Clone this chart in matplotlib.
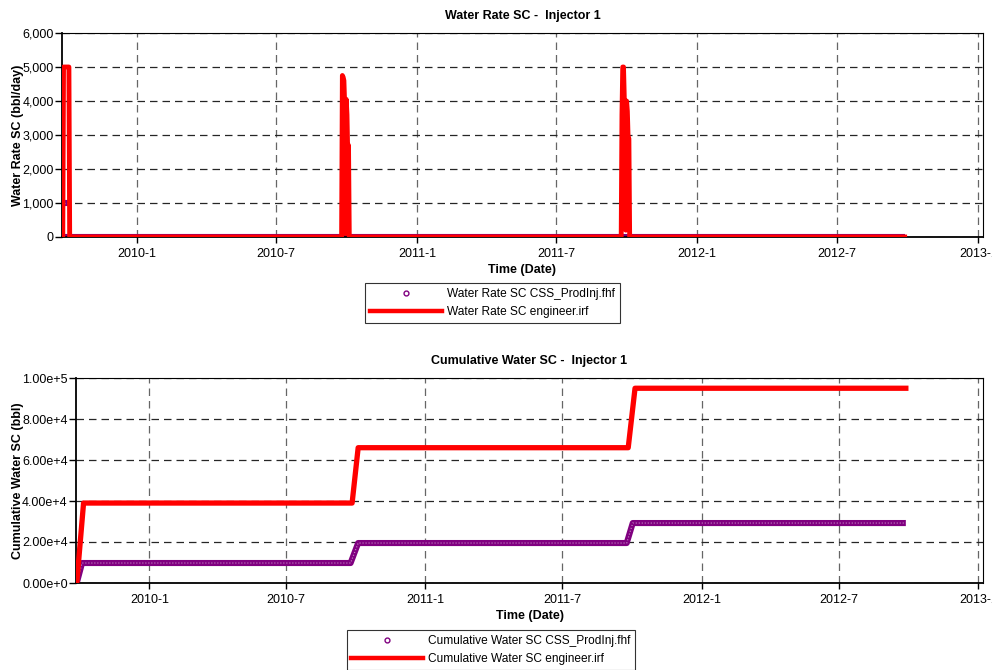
import matplotlib
matplotlib.use('Agg')
import matplotlib.pyplot as plt
import pandas as pd
from matplotlib.lines import Line2D

plt.rcParams['font.family'] = ['Liberation Sans', 'DejaVu Sans']

# ---------------- data ----------------
# Water rate, engineer.irf (red line)
rate_eng_dates = ['2009-09-27', '2009-09-28', '2009-10-05', '2009-10-06',
                  '2010-09-25', '2010-09-26', '2010-09-27', '2010-09-28', '2010-09-29',
                  '2010-09-30', '2010-10-01', '2010-10-02', '2010-10-03', '2010-10-04',
                  '2010-10-05',
                  '2011-09-24', '2011-09-25', '2011-09-26', '2011-09-27', '2011-09-28',
                  '2011-09-29', '2011-09-30', '2011-10-01', '2011-10-02', '2011-10-03',
                  '2011-10-04', '2011-10-05', '2012-09-27']
rate_eng_values = [0, 5000, 5000, 0,
                   0, 4750, 4700, 4600, 3900, 100, 4050, 3600, 2400, 2700, 0,
                   0, 3600, 5000, 5000, 4100, 1700, 200, 4000, 3700, 2900, 2900, 0,
                   0]

# Water rate, CSS_ProdInj.fhf (purple markers)
rate_fhf_zero_span = ['2009-09-27', '2012-09-27']
rate_fhf_on_start = ['2009-09-28', '2010-09-25', '2011-09-25']
rate_fhf_on_end = ['2009-10-04', '2010-10-03', '2011-10-03']
rate_fhf_on_value = 1000

# Cumulative water, engineer.irf (red line)
cum_eng_dates = ['2009-09-27', '2009-10-06', '2010-09-26', '2010-10-04',
                 '2011-09-26', '2011-10-05', '2012-09-27']
cum_eng_values = [0, 39000, 39000, 66000, 66000, 95000, 95000]

# Cumulative water, CSS_ProdInj.fhf (purple markers)
cum_fhf_dates = ['2009-09-27', '2009-10-04', '2010-09-24', '2010-10-04',
                 '2011-09-24', '2011-10-02', '2012-09-27']
cum_fhf_values = [0, 9750, 9750, 19500, 19500, 29250, 29250]

x_tick_dates = ['2010-01-01', '2010-07-01', '2011-01-01', '2011-07-01',
                '2012-01-01', '2012-07-01', '2013-01-01']
x_tick_labels = ['2010-1', '2010-7', '2011-1', '2011-7', '2012-1', '2012-7', '2013-1']

rate_ticks = [0, 1000, 2000, 3000, 4000, 5000, 6000]
rate_tick_labels = ['0', '1,000', '2,000', '3,000', '4,000', '5,000', '6,000']
cum_ticks = [0, 20000, 40000, 60000, 80000, 100000]
cum_tick_labels = ['0.00e+0', '2.00e+4', '4.00e+4', '6.00e+4', '8.00e+4', '1.00e+5']

x_range = ['2009-09-26', '2013-01-07']

# ---------------- style ----------------
RED = '#ff0000'
PURPLE = '#800080'
FS = 9

fig = plt.figure(figsize=(9.92, 6.70), dpi=100)
ax1 = fig.add_axes([62/992, 1-237/670, (983-62)/992, (237-33)/670])
ax2 = fig.add_axes([76/992, 1-583/670, (983-76)/992, (583-378)/670])

D = pd.to_datetime


def band(ax, x, y, z=2):
    ax.plot(x, y, color=PURPLE, lw=4.4, zorder=z, solid_capstyle='butt')
    ax.plot(x, y, color='white', lw=0.9, alpha=0.55, ls=(0, (0.8, 1.6)), zorder=z + 0.1)


def style(ax, ticks, labels, ylabel, title):
    ax.set_xlim(D(x_range[0]), D(x_range[1]))
    ax.set_xticks(D(x_tick_dates))
    ax.set_xticklabels(x_tick_labels, fontsize=FS)
    ax.set_ylim(ticks[0], ticks[-1])
    ax.set_yticks(ticks)
    ax.set_yticklabels(labels, fontsize=FS)
    ax.tick_params(axis='y', length=5, pad=1, width=1)
    ax.tick_params(axis='x', length=4, pad=4, width=1)
    ax.grid(True, axis='x', color='0.4', lw=0.9, ls=(0, (6, 4)))
    ax.grid(True, axis='y', color='0.15', lw=0.9, ls=(0, (6, 4)))
    ax.set_axisbelow(True)
    for s in ['left', 'bottom']:
        ax.spines[s].set_linewidth(1.3)
    for s in ['top', 'right']:
        ax.spines[s].set_linewidth(0.8)
    ax.set_xlabel('Time (Date)', fontsize=FS, fontweight='bold', labelpad=3)
    ax.set_ylabel(ylabel, fontsize=FS, fontweight='bold')
    ax.set_title(title, fontsize=FS, fontweight='bold', pad=10)


# Top chart
band(ax1, D(rate_fhf_zero_span), [0, 0])
for s, e in zip(rate_fhf_on_start, rate_fhf_on_end):
    band(ax1, D([s, e]), [rate_fhf_on_value, rate_fhf_on_value])
ax1.plot(D(rate_eng_dates), rate_eng_values, color=RED, lw=3.5, zorder=3)
style(ax1, rate_ticks, rate_tick_labels, 'Water Rate SC (bbl/day)',
      'Water Rate SC -  Injector 1')
ax1.yaxis.set_label_coords(-0.041, 0.5)

# Bottom chart
band(ax2, D(cum_fhf_dates), cum_fhf_values)
ax2.plot(D(cum_eng_dates), cum_eng_values, color=RED, lw=3.8, zorder=3)
style(ax2, cum_ticks, cum_tick_labels, 'Cumulative Water SC (bbl)',
      'Cumulative Water SC -  Injector 1')
ax2.yaxis.set_label_coords(-0.057, 0.5)


# Legends
def legend(ax, labels, x, y):
    h = [Line2D([], [], ls='none', marker='o', ms=3.5, mfc='none', mec=PURPLE, mew=1.0),
         Line2D([], [], color=RED, lw=3.2)]
    lg = ax.legend(h, labels, loc='upper center', bbox_to_anchor=(x, y),
                   bbox_transform=fig.transFigure, fontsize=8.6, frameon=True,
                   fancybox=False, edgecolor='black', handlelength=6.0,
                   labelspacing=0.5, borderpad=0.4, handletextpad=0.45,
                   borderaxespad=0)
    lg.get_frame().set_linewidth(0.8)


legend(ax1, ['Water Rate SC CSS_ProdInj.fhf', 'Water Rate SC engineer.irf'],
       492.5/992, 1-283/670)
legend(ax2, ['Cumulative Water SC CSS_ProdInj.fhf', 'Cumulative Water SC engineer.irf'],
       491/992, 1-630/670)

fig.savefig('out.png', dpi=100)
